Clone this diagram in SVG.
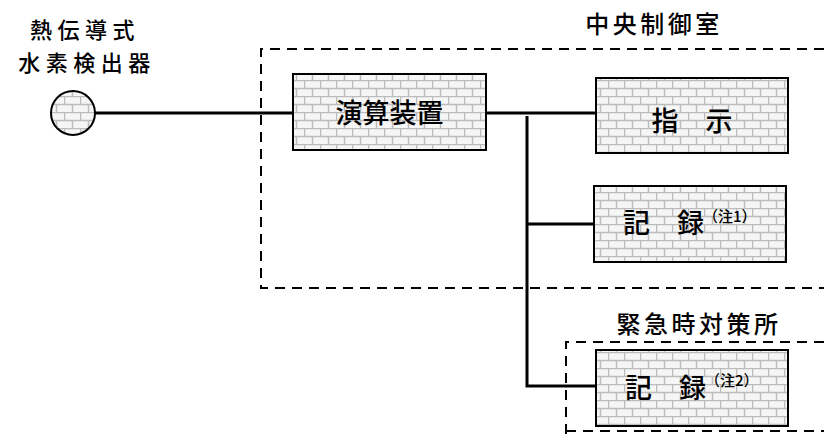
<svg xmlns="http://www.w3.org/2000/svg" width="824" height="438" viewBox="0 0 824 438">
<style>
text{font-family:"Noto Sans CJK JP","Noto Sans CJK SC",sans-serif;fill:#000;font-weight:500}
.lbl{font-size:24px;letter-spacing:3.5px;text-anchor:middle}
.det{font-size:22px;letter-spacing:5.5px;text-anchor:middle}
.box{font-size:27px}
.sup{font-size:15px}
.node{fill:url(#brick);stroke:#000;stroke-width:2}
.dash{fill:none;stroke:#000;stroke-width:2;stroke-dasharray:10 7}
.wire{fill:none;stroke:#000;stroke-width:3}
</style>
<defs>
<pattern id="brick" patternUnits="userSpaceOnUse" width="16" height="16">
<rect width="16" height="16" fill="#f6f6f6"/>
<path d="M0 0.5H16M0 8.5H16M0.5 0V8.5M8.5 8.5V16" stroke="#bcbcbc" stroke-width="1.5" fill="none"/>
</pattern>
</defs>
<g id="room-main">
<path class="dash" d="M824 49H261V288H824"/>
<text class="lbl" x="654" y="33">中央制御室</text>
</g>
<g id="room-emergency">
<path class="dash" d="M824 342H566V438"/>
<path class="dash" d="M566 431H824"/>
<text class="lbl" x="699" y="333">緊急時対策所</text>
</g>
<g id="connectors">
<path class="wire" d="M95 113H293"/>
<path class="wire" d="M486 113H596"/>
<path class="wire" d="M527 116V386H596"/>
<path class="wire" d="M527 224H594"/>
</g>
<g id="detector">
<circle class="node" cx="73" cy="113" r="22"/>
<text class="det" x="85" y="38">熱伝導式</text>
<text class="det" x="87" y="70.5">水素検出器</text>
</g>
<g id="calc">
<rect class="node" x="293" y="74" width="193" height="76"/>
<text class="box" x="389.5" y="123" text-anchor="middle">演算装置</text>
</g>
<g id="indicate">
<rect class="node" x="596" y="78" width="192" height="75"/>
<text class="box" x="692" y="131" text-anchor="middle">指　示</text>
</g>
<g id="record1">
<rect class="node" x="594" y="186" width="192" height="76"/>
<text class="box" x="623" y="233">記　録</text>
<text class="sup" x="703" y="222">（注1）</text>
</g>
<g id="record2">
<rect class="node" x="596" y="350" width="192" height="76"/>
<text class="box" x="625" y="398">記　録</text>
<text class="sup" x="705" y="386">（注2）</text>
</g>
</svg>
